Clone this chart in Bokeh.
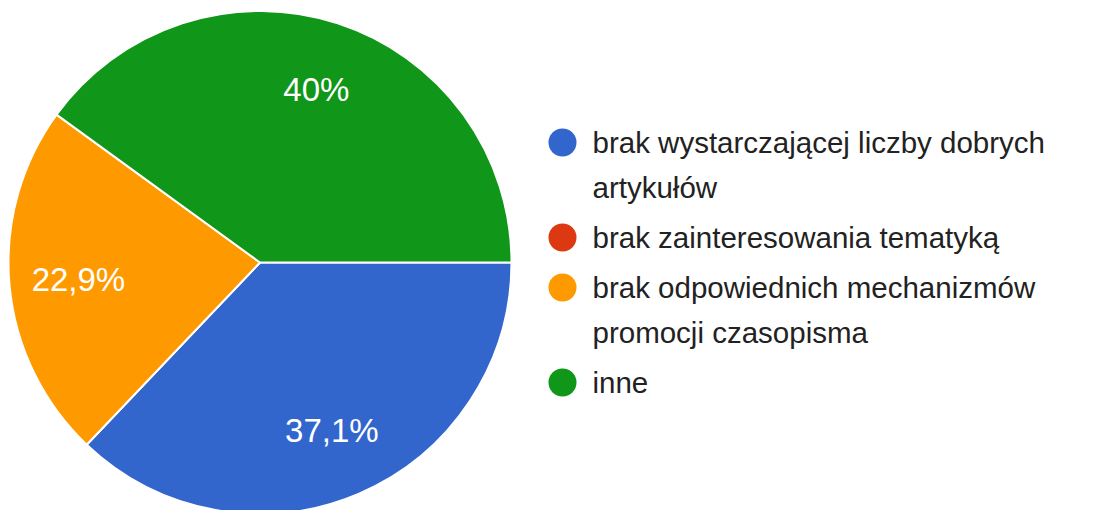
import math
from bokeh.plotting import figure
from bokeh.models import Range1d, ColumnDataSource
from bokeh.embed import file_html
from bokeh.resources import INLINE
from bokeh.core.properties import value

categories = [
    "brak wystarczającej liczby dobrych\nartykułów",
    "brak zainteresowania tematyką",
    "brak odpowiednich mechanizmów\npromocji czasopisma",
    "inne",
]
shares = [37.1, 0.0, 22.9, 40.0]
pct_labels = ["37,1%", "", "22,9%", "40%"]
colors = ["#3366CC", "#DC3912", "#FF9900", "#109618"]

W, H = 1099, 510
p = figure(width=W, height=H, x_range=Range1d(0, W), y_range=Range1d(0, H),
           output_backend="svg", toolbar_location=None, min_border=0)
p.axis.visible = False
p.grid.visible = False
p.outline_line_color = None
p.background_fill_color = "white"

cx, cy, R = 259.5, 248.0, 251.5
total = sum(shares)
starts, ends = [], []
acc = 0.0
for s in shares:
    starts.append(-2 * math.pi * acc / total)
    acc += s
    ends.append(-2 * math.pi * acc / total)

idx = [i for i, s in enumerate(shares) if s > 0]
wsrc = ColumnDataSource(dict(
    x=[cx] * len(idx), y=[cy] * len(idx),
    start=[starts[i] for i in idx], end=[ends[i] for i in idx],
    color=[colors[i] for i in idx],
))
p.wedge(x="x", y="y", radius=R, start_angle="start", end_angle="end",
        direction="clock", fill_color="color", line_color="white", line_width=2,
        source=wsrc)

lf = 0.725
lsrc = ColumnDataSource(dict(
    x=[cx + lf * R * math.cos((starts[i] + ends[i]) / 2) for i in idx],
    y=[cy + lf * R * math.sin((starts[i] + ends[i]) / 2) for i in idx],
    t=[pct_labels[i] for i in idx],
))
p.text(x="x", y="y", text="t", source=lsrc, text_color="white",
       text_font=value("Liberation Sans"), text_font_size="33px",
       text_align="center", text_baseline="middle")

# legend
lx_dot, lx_txt = 562, 592
ly0, line_h, gap = 368, 45, 5
dot_x, dot_y, dot_c = [], [], []
tx, ty, tt = [], [], []
y = ly0
for cat, col in zip(categories, colors):
    dot_x.append(lx_dot); dot_y.append(y); dot_c.append(col)
    for line in cat.split("\n"):
        tx.append(lx_txt); ty.append(y); tt.append(line)
        y -= line_h
    y -= gap
p.scatter(x=dot_x, y=dot_y, size=28, fill_color=dot_c, line_color=None)
p.text(x=tx, y=ty, text=tt, text_color="#222222",
       text_font=value("Liberation Sans"), text_font_size="29.5px",
       text_align="left", text_baseline="middle")

open("out.html", "w").write(file_html(p, INLINE))
